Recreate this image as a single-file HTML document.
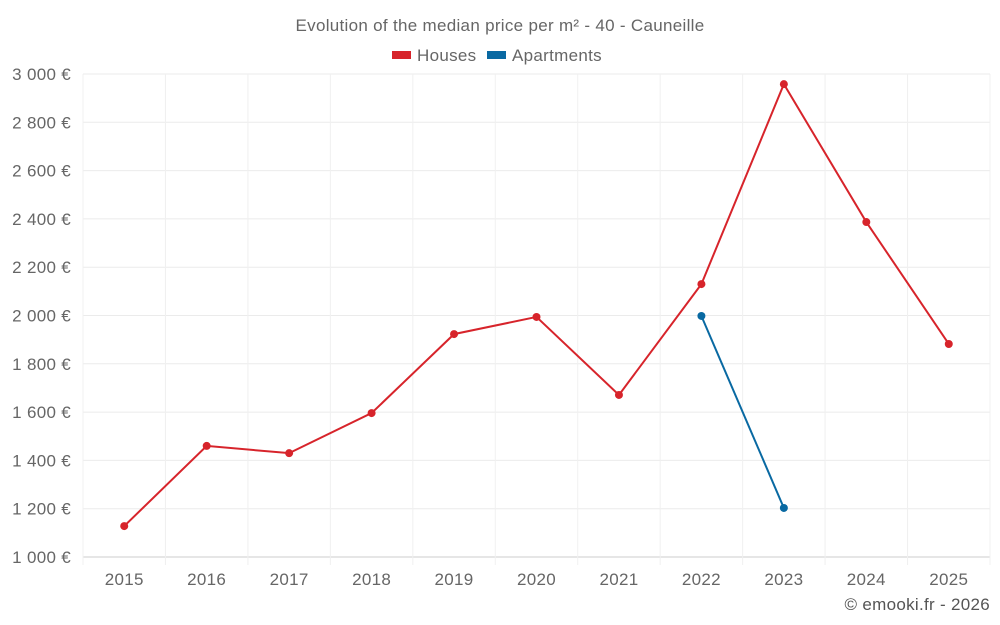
<!DOCTYPE html>
<html><head><meta charset="utf-8">
<style>
html,body{margin:0;padding:0;background:#fff;}
svg{display:block;font-family:"Liberation Sans",sans-serif;}
svg text{letter-spacing:0.3px;}
</style></head>
<body>
<svg id="chart" width="1000" height="625" viewBox="0 0 1000 625">
<text x="500" y="31" text-anchor="middle" font-size="17" fill="#666">Evolution of the median price per m² - 40 - Cauneille</text>
<g>
<g><rect x="392" y="51" width="19" height="8" fill="#d7242b"/><text x="417" y="61" font-size="17" fill="#666">Houses</text></g>
<g><rect x="487" y="51" width="19" height="8" fill="#0969a2"/><text x="512" y="61" font-size="17" fill="#666">Apartments</text></g>
</g>
<g id="grid"></g>
<g id="axes"></g>
<g id="series"></g>
<text x="990" y="610" text-anchor="end" font-size="17" fill="#555">© emooki.fr - 2026</text>
</svg>
<script>
const years = ["2015","2016","2017","2018","2019","2020","2021","2022","2023","2024","2025"];
const houses = [1128,1460,1430,1596,1923,1994,1671,2130,2958,2387,1882];
const apartments = [null,null,null,null,null,null,null,1998,1203,null,null];
const yTicks = [1000,1200,1400,1600,1800,2000,2200,2400,2600,2800,3000];
const yTickLabels = ["1 000 €","1 200 €","1 400 €","1 600 €","1 800 €","2 000 €","2 200 €","2 400 €","2 600 €","2 800 €","3 000 €"];

const L=83,R=990,T=74,B=557,yMin=1000,yMax=3000;
const band=(R-L)/years.length;
const xs=i=>L+band*(i+0.5);
const ys=v=>B-(v-yMin)/(yMax-yMin)*(B-T);
const NS="http://www.w3.org/2000/svg";
function mk(tag,attrs,parent){const e=document.createElementNS(NS,tag);for(const k in attrs)e.setAttribute(k,attrs[k]);parent.appendChild(e);return e;}
const grid=document.getElementById('grid'),axes=document.getElementById('axes'),series=document.getElementById('series');

yTicks.forEach((t,i)=>{
  const y=ys(t);
  const gl=mk('line',{x1:L,x2:R,y1:y,y2:y,stroke:i===0?'#ccc':'#ebebeb','stroke-width':1},grid);
  
  
  const tx=mk('text',{x:71,y:y+6,'text-anchor':'end','font-size':17,fill:'#666'},axes);
  tx.textContent=yTickLabels[i];
  
  
});
for(let i=0;i<=years.length;i++){
  const x=L+band*i;
  const vl=mk('line',{x1:x,x2:x,y1:T,y2:B+8,stroke:'#f0f0f0','stroke-width':1},grid);
  
  
}
years.forEach((yr,i)=>{
  const tx=mk('text',{x:xs(i),y:585,'text-anchor':'middle','font-size':17,fill:'#666'},axes);
  tx.textContent=yr;
  
  
});

function drawSeries(vals,color,name){
  let d='';let started=false;
  vals.forEach((v,i)=>{if(v==null){started=false;return;}d+=(started?'L':'M')+xs(i)+','+ys(v);started=true;});
  const p=mk('path',{d:d,fill:'none',stroke:color,'stroke-width':2},series);
  
  
  vals.forEach((v,i)=>{if(v==null)return;
    const c=mk('circle',{cx:xs(i),cy:ys(v),r:4,fill:color},series);
    
    
  });
}
drawSeries(houses,'#d7242b','houses');
drawSeries(apartments,'#0969a2','apartments');
</script>
</body></html>
